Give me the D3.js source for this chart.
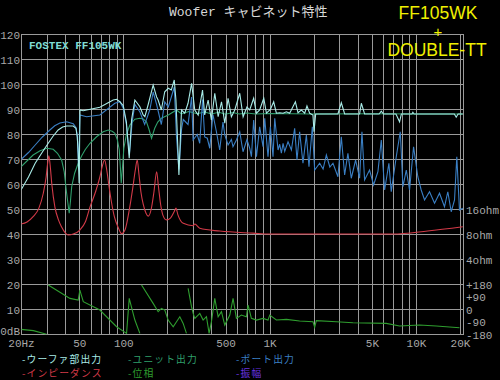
<!DOCTYPE html>
<html>
<head>
<meta charset="utf-8">
<script src="https://cdn.jsdelivr.net/npm/d3@7"></script>
<style>
  body { margin: 0; background: #000; }
  svg { display: block; }
</style>
</head>
<body>
<script>
// values: [frequency Hz, dB]
const wooferOut = [[20,57.8],[22.5,63],[25,68.5],[28,73],[30.7,76.5],[33,79.2],[35.9,81.8],[38.5,83],[41,83.4],[45.5,83.4],[47.5,82.5],[48.5,79],[49.2,72.5],[49.9,60.5],[50.6,89.8],[53.2,89.5],[69.2,90.9],[85.3,93.8],[90,94.1],[94.8,93.1],[100,91.5],[105,85],[109.8,70.5],[114,86],[120,93.8],[129.8,91.1],[136.8,87.8],[140.4,87.1],[148,92],[160,99.8],[169,95],[173,93.8],[182,89.8],[192,97.1],[203,98.5],[213,97.8],[223,101.8],[229,93.8],[240,63.8],[250,89.8],[263,88.5],[277,92.5],[293,100.5],[308,89.8],[325,87.8],[348,97.8],[360,87.8],[380,93.8],[400,85.8],[422,96.5],[445,87.1],[469,93.1],[494,84.5],[520,94.5],[548,87.1],[578,89.8],[625,96.5],[659,87.1],[700,91],[731,89.8],[778,94.5],[813,88.5],[855,89.8],[912,94.5],[951,88.5],[1012,90],[1066,93.1],[1112,88.5],[1172,88.7],[1236,88.5],[1302,89.1],[1371,88.5],[1500,93.1],[1563,88.7],[1648,89.8],[1737,88.5],[1800,91.4],[1879,88.5],[1978,87.8],[2010,81.1],[2064,88.2],[2930,88.2],[3090,92.7],[3256,88.2],[4120,88.2],[4234,92.5],[4457,88.2],[5600,88.2],[5797,89.3],[6000,88.2],[7300,88.2],[7727,85.1],[7950,88.2],[9400,88.2],[9528,88.9],[9700,88.2],[18300,88.2],[18840,86.9],[19400,88.2],[20900,88.2]];

const unitOut = [[20,67.1],[22.5,70],[24.2,71.8],[27,73.5],[30,74.5],[33.2,74.1],[35.5,72.5],[37.9,69.8],[39.5,65],[41,56.5],[42.7,48.5],[43.5,53],[44.4,59.1],[46.5,64.5],[49.2,68.5],[52,71.5],[55,74],[59.2,76.5],[65.7,79.1],[72.9,81.1],[78.9,81.8],[84,81.3],[87.6,80.5],[91,78],[93.8,74],[95.5,67],[96.8,60.5],[98.5,66],[100.9,74.5],[105,80],[110.9,83.8],[120,86.1],[129.8,86.5],[137,86.2],[144,85.1],[150,82],[156,78.5],[160,80.5],[164,82.5],[172,85],[182,86.5],[203,87.8],[231,89.8],[250,88.2],[280,89.2],[320,88.3],[360,89],[400,88.2],[450,88.9],[500,88.1],[560,88.8],[620,88.2],[700,88.6],[800,88.2],[1000,88.4],[2000,88.2],[5000,88.3],[10000,88.2],[20900,88.2]];

const portOut = [[20,70],[22.5,72.8],[25,75.8],[28,79],[31.5,81.8],[34,83.5],[36.9,84.6],[41,85.1],[45.5,84.3],[47.5,82.8],[48.5,79.5],[49.5,66],[50.5,87.8],[56.2,87.1],[69.2,87.8],[87.6,92.5],[94.8,93.1],[100,90.5],[105,84],[110,72],[115,85],[120,92],[130,89],[140,84],[152,90],[160,97],[169,92],[182,84],[192,93],[203,91],[213,95],[223,99],[231,79],[240,66],[250,82],[257,86],[277,84],[293,95],[300,77.8],[320,80],[333,76.5],[348,94],[360,79],[375,78.5],[390,74.5],[410,88],[433,81.1],[456,73.8],[480,85],[494,79.8],[520,75.8],[548,78],[562,75.1],[593,77.8],[625,81.1],[658,73.1],[700,78],[731,74.5],[751,71.1],[778,85.8],[813,71.1],[855,83.1],[902,75.1],[926,86.5],[975,71.1],[1012,83.1],[1055,71.1],[1084,86.5],[1142,73.8],[1172,76.1],[1203,72.5],[1236,76.5],[1268,73.2],[1336,77.1],[1409,73.8],[1483,82.5],[1538,69.8],[1604,81.1],[1690,68.5],[1783,79.8],[1858,67.1],[1958,83.1],[2032,65.8],[2198,68.5],[2320,66.2],[2442,71.8],[2580,67],[2710,68.5],[2930,63.1],[3090,79.1],[3256,63.8],[3428,72.5],[3614,62.5],[3870,69.8],[4120,62.5],[4276,81.1],[4457,61.8],[4820,65.8],[5136,59.8],[5497,65.1],[5797,77.8],[6110,57.8],[6532,68.5],[6780,57.1],[7336,71.1],[7812,81.1],[8148,59.1],[8590,65.8],[9040,57.8],[9632,75.1],[10300,63.1],[10860,57.8],[11450,53.8],[12380,57.1],[13400,52.5],[14490,56.5],[15670,51.1],[16510,57.1],[17420,49.1],[18350,53.8],[19020,71.1],[19840,49.8],[20900,50.5]];

// [Hz, ohm]
const impedance = [[20,10.7],[22,11.3],[24.2,13.1],[26.5,16.6],[28.4,25.1],[29.7,39.4],[30.5,59.7],[31,71],[31.6,55.7],[32.5,32],[34.1,17.1],[36,12.1],[37.9,9.85],[40,8.45],[42,7.9],[45.5,8.1],[50.5,9.06],[55,11.3],[59.2,17.1],[65,26.9],[69.2,39.4],[72,53.8],[74.5,63],[77,48.5],[80,29.9],[83,19.7],[87,13],[92,9.85],[97.5,8.2],[103,9.2],[110,16],[116,28.8],[121,48.5],[124.5,63],[128,42.2],[132,26],[137,18.4],[143,14.4],[148,13.3],[155,16],[162,26],[169,45.6],[174,29.9],[180,18.4],[187,13.5],[197,12],[210,12.6],[222,14.9],[229,16.6],[236,13.9],[257,10.9],[300,10.2],[308,10.7],[333,9.5],[456,8.8],[771,8.3],[1000,8.1],[6950,8.1],[12000,8.8],[20900,9.9]];

// [Hz, degrees], null = wrap
const phase = [[20,-143],[24.3,-152],[29.9,-178],[30.3,null],
  [30.7,176],[43.2,80],[49.2,68],[50.5,140],[53.3,56],[69.2,-4],[90,-124],[105.3,-172],[109.8,80],[120,-76],[129.8,-172],[131.5,null],
  [133.3,176],[160,44],[173.1,-16],[182.4,8],[192.2,-4],[202.6,-76],[219.3,-124],[243.4,-52],[256.6,-100],[270.2,-172],[274,null],
  [277.4,152],[292.5,20],[300.3,-28],[308.2,-64],[333.4,-28],[351.3,-76],[370.1,-52],[385.9,-172],[400.4,-88],[421.9,80],[444.9,-52],[468.6,-16],[493.8,-112],[534.4,-40],[562.6,80],[593,-64],[641,-40],[693.5,-52],[712.6,32],[750.8,-64],[812.6,-76],[902,-64],[975,-76],[1002,-40],[1112,-76],[1302,-71],[1604,-83],[1979,-88],[2032,-128],[2085,-80],[2856,-88],[3711,-95],[6267,-100],[7727,-119],[10580,-112],[13750,-119],[19840,-131]];

const dbTicks = [0,10,20,30,40,50,60,70,80,90,100,110,120];
const freqGrid = [20,30,40,50,60,70,80,90,100,200,300,400,500,600,700,800,900,1000,2000,3000,4000,5000,6000,7000,8000,9000,10000,20000];
const freqLabels = [20,50,100,500,1000,5000,10000,20000];
const freqNames = ["20Hz","50","100","500","1K","5K","10K","20K"];
const ohmTicks = [4,8,16];
const phaseTicks = [-180,-90,0,90,180];
const legendNames = ["-ウーファ部出力","-ユニット出力","-ポート出力","-インピーダンス","-位相","-振幅"];
const legendColors = ["#a8ece8","#2f9f6c","#3a7fc4","#d23a48","#2f9e2f","#6a34e0"];

const svg = d3.select("body").append("svg").attr("width", 500).attr("height", 380)
  .style("background", "#000");

const x = d3.scaleLog().domain([20, 20000]).range([21, 460]);
const y = d3.scaleLinear().domain([0, 120]).range([334.5, 34.5]);
const yOhm = d3.scaleLog().base(2).domain([4, 16]).range([y(30), y(50)]);
const yPhase = d3.scaleLinear().domain([-180, 180]).range([y(0), y(20)]);
const left = 21.5, right = 463.5;

// grid
svg.append("g").selectAll("line").data(dbTicks).join("line")
  .attr("x1", left).attr("x2", right).attr("y1", d => y(d)).attr("y2", d => y(d))
  .attr("stroke", "#9a9a9a");
svg.append("g").selectAll("line").data(freqGrid).join("line")
  .attr("x1", d => Math.round(x(d)) + 0.5).attr("x2", d => Math.round(x(d)) + 0.5)
  .attr("y1", y(120)).attr("y2", y(0)).attr("stroke", "#9a9a9a");
svg.append("rect").attr("x", left).attr("y", y(120)).attr("width", right - left).attr("height", y(0) - y(120))
  .attr("fill", "none").attr("stroke", "#9a9a9a");

// axes labels
const mono = "'Liberation Mono', 'DejaVu Sans Mono', monospace";
function styleAxis(g) {
  g.select(".domain").remove();
  g.attr("font-family", mono).attr("font-size", 11);
  g.selectAll("text").attr("fill", "#a8a8a8");
}
svg.append("g").attr("transform", "translate(21,0)")
  .call(d3.axisLeft(y).tickValues(dbTicks).tickSize(0).tickPadding(1).tickFormat(d => d === 0 ? "0dB" : d))
  .call(styleAxis)
  .call(g => g.selectAll("text").filter(d => d === 0).attr("dy", "0.02em"));
svg.append("g").attr("transform", "translate(0,334.5)")
  .call(d3.axisBottom(x).tickValues(freqLabels).tickSize(0).tickPadding(5).tickFormat((d, i) => freqNames[i]))
  .call(styleAxis);
svg.append("g").attr("transform", "translate(463,0)")
  .call(d3.axisRight(yOhm).tickValues(ohmTicks).tickSize(0).tickPadding(3).tickFormat(d => d + "ohm"))
  .call(styleAxis);
svg.append("g").attr("transform", "translate(463,0)")
  .call(d3.axisRight(yPhase).tickValues(phaseTicks).tickSize(0).tickPadding(3).tickFormat(d => d > 0 ? "+" + d : String(d)))
  .call(styleAxis);

// curves
svg.append("clipPath").attr("id", "plot").append("rect")
  .attr("x", left).attr("y", y(120)).attr("width", right - left).attr("height", y(0) - y(120));
const plot = svg.append("g").attr("clip-path", "url(#plot)").attr("fill", "none").attr("stroke-width", 1.1);

const dbLine = d3.line().x(d => x(d[0])).y(d => y(d[1]));
const ohmLine = d3.line().curve(d3.curveMonotoneX).x(d => x(d[0])).y(d => yOhm(d[1]));
const phaseLine = d3.line().defined(d => d[1] != null).x(d => x(d[0])).y(d => yPhase(d[1]));

plot.append("path").attr("d", dbLine(unitOut)).attr("stroke", legendColors[1]);
plot.append("path").attr("d", dbLine(portOut)).attr("stroke", legendColors[2]);
plot.append("path").attr("d", ohmLine(impedance)).attr("stroke", legendColors[3]);
plot.append("path").attr("d", phaseLine(phase)).attr("stroke", legendColors[4]);
plot.append("path").attr("d", dbLine(wooferOut)).attr("stroke", legendColors[0]);

// texts
svg.append("text").attr("x", 169).attr("y", 16)
  .attr("font-family", mono + ", 'Noto Sans CJK JP'").attr("font-size", 13).attr("fill", "#d8d8d8")
  .text("Woofer キャビネット特性");
svg.append("text").attr("x", 29).attr("y", 49)
  .attr("font-family", mono).attr("font-size", 11).attr("font-weight", "bold").attr("fill", "#7fdcd4")
  .text("FOSTEX FF105WK");

const yellow = svg.append("g").attr("font-family", "'Liberation Sans', Arial, sans-serif")
  .attr("font-size", 17.5).attr("fill", "#f0f000").attr("text-anchor", "middle");
yellow.append("text").attr("x", 438).attr("y", 18.5).text("FF105WK");
yellow.append("text").attr("x", 438).attr("y", 37).attr("font-size", 15).text("+");
yellow.append("text").attr("x", 437).attr("y", 56).text("DOUBLE-TT");

const legend = svg.append("g").attr("font-family", "'Noto Sans CJK JP', sans-serif")
  .attr("font-size", 9.8).attr("letter-spacing", 1.1);
legend.selectAll("text").data(legendNames).join("text")
  .attr("x", (d, i) => [22, 128, 236][i % 3])
  .attr("y", (d, i) => i < 3 ? 362.5 : 376.8)
  .attr("fill", (d, i) => legendColors[i])
  .text(d => d);
</script>
</body>
</html>
